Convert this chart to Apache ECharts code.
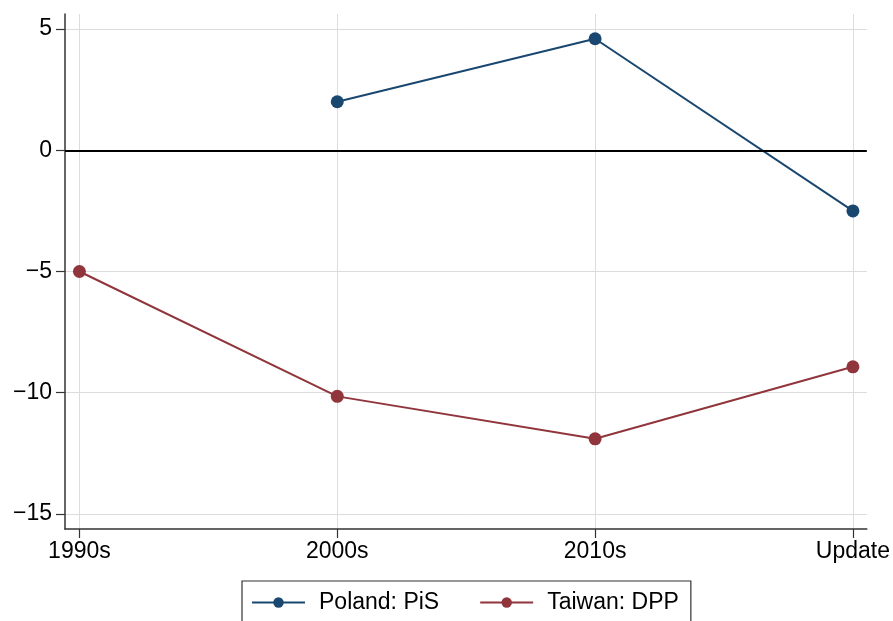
<!DOCTYPE html>
<html><head><meta charset="utf-8">
<script src="https://cdn.jsdelivr.net/npm/echarts@6/dist/echarts.min.js"></script>
<style>html,body{margin:0;padding:0;background:#fff}#c{width:893px;height:621px}</style>
</head><body><div id="c"></div>
<script>
const categories = ['1990s', '2000s', '2010s', 'Update'];
const polandPiS = [null, 2.0, 4.6, -2.5];
const taiwanDPP = [-5.0, -10.15, -11.9, -8.93];
const yTicks = [-15, -10, -5, 0, 5];

const toPts = arr => arr.map((v, i) => [i, v]).filter(p => p[1] !== null);
const font = 'Liberation Sans, Arial, Helvetica, sans-serif';

const chart = echarts.init(document.getElementById('c'), null, {renderer: 'canvas'});
chart.setOption({
  animation: false,
  backgroundColor: '#fff',
  grid: {left: 65, right: 25, top: 14, bottom: 92, containLabel: false},
  xAxis: {
    type: 'value', min: -0.056, max: 3.054,
    axisLine: {show: true, onZero: false, lineStyle: {color: '#333', width: 1.5}},
    axisTick: {show: true, length: 9, customValues: [0, 1, 2, 3], lineStyle: {color: '#333', width: 1.2}},
    axisLabel: {customValues: [0, 1, 2, 3], formatter: v => categories[Math.round(v)], color: '#000', fontSize: 23, fontFamily: font, margin: 11},
    splitLine: {show: true, lineStyle: {color: '#dcdcdc', width: 1}}
  },
  yAxis: {
    type: 'value', min: -15.62, max: 5.62,
    axisLine: {show: true, onZero: false, lineStyle: {color: '#333', width: 1.5}},
    axisTick: {show: true, length: 9, customValues: yTicks, lineStyle: {color: '#333', width: 1.2}},
    axisLabel: {customValues: yTicks, formatter: v => (v < 0 ? '\u2212' + Math.abs(v) : String(v)), color: '#000', fontSize: 23, fontFamily: font, margin: 13},
    splitLine: {show: true, lineStyle: {color: '#dcdcdc', width: 1}}
  },
  legend: {
    left: 242, top: 581, width: 450,
    padding: [10, 12, 40, 9],
    borderColor: '#333', borderWidth: 1.2,
    itemWidth: 53, itemHeight: 13, itemGap: 40,
    textStyle: {color: '#000', fontSize: 23, fontFamily: font, padding: [0, 0, 0, 9]},
    data: ['Poland: PiS', 'Taiwan: DPP']
  },
  series: [
    {
      name: 'Poland: PiS', type: 'line', data: toPts(polandPiS),
      symbol: 'circle', symbolSize: 13,
      lineStyle: {color: '#1a476f', width: 2}, itemStyle: {color: '#1a476f'},
      markLine: {
        silent: true, symbol: 'none', label: {show: false},
        lineStyle: {color: '#000', width: 2, type: 'solid'},
        data: [{yAxis: 0}]
      },
      z: 3
    },
    {
      name: 'Taiwan: DPP', type: 'line', data: toPts(taiwanDPP),
      symbol: 'circle', symbolSize: 13,
      lineStyle: {color: '#90353b', width: 2}, itemStyle: {color: '#90353b'},
      z: 3
    }
  ]
});
</script></body></html>
